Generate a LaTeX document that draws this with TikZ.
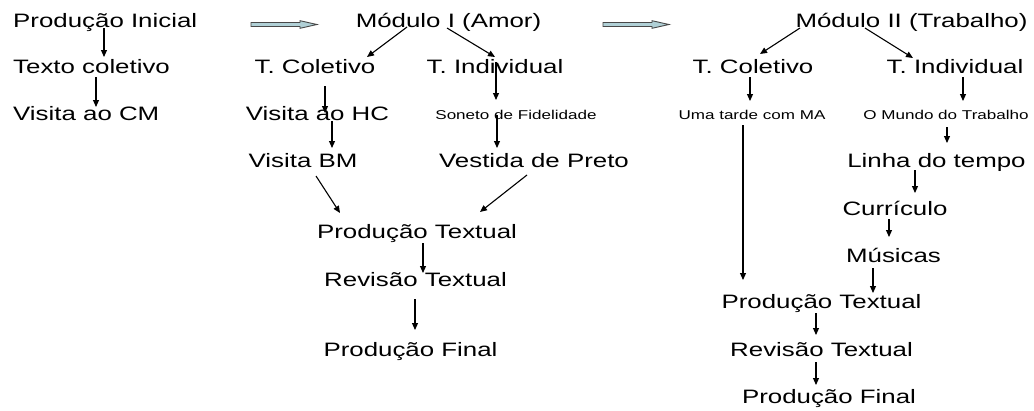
\documentclass[tikz,border=0pt]{standalone}
\usepackage{fontspec}
\setmainfont{Liberation Sans}[FakeStretch=1.333]
\usepackage{tikz}
\usetikzlibrary{arrows.meta}
\definecolor{blkfill}{RGB}{176,208,214}
\definecolor{blkline}{RGB}{72,72,72}
\newcommand{\bigsize}{\fontsize{19.4}{23}\selectfont}
\newcommand{\smallsize}{\fontsize{12.8}{15}\selectfont}

\begin{document}
\begin{tikzpicture}[x=1pt,y=-1pt,
    lbl/.style={anchor=base, inner sep=0pt, font=\bigsize},
    lblw/.style={lbl, anchor=base west},
    sml/.style={lbl, font=\smallsize},
    arr/.style={-{Triangle[length=7pt,width=6pt]}, line width=1.1pt},
    blk/.style={draw=blkline, fill=blkfill, line width=.9pt}]
    \useasboundingbox (0,0) rectangle (1034,410);

    % Produção inicial
        \node (pini) at (13,27) [lblw] {Produção Inicial};
        \node (texto) at (13,73) [lblw] {Texto coletivo};
        \node (viscm) at (13,120) [lblw] {Visita ao CM};

    % Módulo I
        \node (mod1) at (448.5,27) [lbl] {Módulo I (Amor)};
        \node (tcol1) at (315,73) [lbl] {T. Coletivo};
        \node (tind1) at (495,73) [lbl] {T. Individual};
        \node (vishc) at (317.5,120) [lbl] {Visita ao HC};
        \node (soneto) at (516,119) [sml] {Soneto de Fidelidade};
        \node (visbm) at (303,167) [lbl] {Visita BM};
        \node (vestida) at (534,167) [lbl] {Vestida de Preto};
        \node (ptext1) at (417,238) [lbl] {Produção Textual};
        \node (rev1) at (415.5,286) [lbl] {Revisão Textual};
        \node (pfin1) at (410.5,356) [lbl] {Produção Final};

    % Módulo II
        \node (mod2) at (911.5,27) [lbl] {Módulo II (Trabalho)};
        \node (tcol2) at (753,73) [lbl] {T. Coletivo};
        \node (tind2) at (955,73) [lbl] {T. Individual};
        \node (tarde) at (752,119) [sml] {Uma tarde com MA};
        \node (mundo) at (946,119) [sml] {O Mundo do Trabalho};
        \node (linha) at (936.5,167) [lbl] {Linha do tempo};
        \node (curr) at (895,215) [lbl] {Currículo};
        \node (mus) at (893.5,262) [lbl] {Músicas};
        \node (ptext2) at (821.5,308) [lbl] {Produção Textual};
        \node (rev2) at (821.5,356) [lbl] {Revisão Textual};
        \node (pfin2) at (829,403) [lbl] {Produção Final};

    % block arrows between the stages
        \foreach \x in {251,603}
        \draw[blk] (\x,22.5) -- ++(49,0) -- ++(0,-1.8) -- (\x+66,24.5)
        -- (\x+49,28.3) -- ++(0,-1.8) -- (\x,26.5) -- cycle;

        \draw[arr] ([shift={(91,1)}]pini.base west) to ([shift={(91,-16)}]texto.base west);
        \draw[arr] ([shift={(83,4)}]texto.base west) to ([shift={(83,-13)}]viscm.base west);

        \draw[arr] ([shift={(-41.5,0)}]mod1.base) to ([shift={(52,-16)}]tcol1.base);
        \draw[arr] ([shift={(-1.5,1)}]mod1.base) to ([shift={(0,-16)}]tind1.base);
        \draw[arr] ([shift={(10,13)}]tcol1.base) to ([shift={(7.5,-7)}]vishc.base);
        \draw[arr] ([shift={(1,-11)}]tind1.base) to ([shift={(-20,-19)}]soneto.base);
        \draw[arr] ([shift={(14.5,1)}]vishc.base) to ([shift={(29,-19)}]visbm.base);
        \draw[arr] ([shift={(-19,-4)}]soneto.base) to ([shift={(-37,-19)}]vestida.base);
        \draw[arr] ([shift={(13,9)}]visbm.base) to ([shift={(-77,-25)}]ptext1.base);
        \draw[arr] ([shift={(-7,8)}]vestida.base) to ([shift={(63,-26)}]ptext1.base);
        \draw[arr] ([shift={(6,5)}]ptext1.base) to ([shift={(7.5,-13)}]rev1.base);
        \draw[arr] ([shift={(-0.5,13)}]rev1.base) to ([shift={(4.5,-26)}]pfin1.base);

        \draw[arr] ([shift={(-111.5,1)}]mod2.base) to ([shift={(7,-19)}]tcol2.base);
        \draw[arr] ([shift={(-46.5,1)}]mod2.base) to ([shift={(-42,-15)}]tind2.base);
        \draw[arr] ([shift={(-3,4)}]tcol2.base) to ([shift={(-2,-18)}]tarde.base);
        \draw[arr] ([shift={(8,4)}]tind2.base) to ([shift={(17,-18)}]mundo.base);
        \draw[arr] ([shift={(-9,6)}]tarde.base) to ([shift={(-78.5,-28)}]ptext2.base);
        \draw[arr] ([shift={(1,8)}]mundo.base) to ([shift={(10.5,-24)}]linha.base);
        \draw[arr] ([shift={(-21.5,3)}]linha.base) to ([shift={(20,-22)}]curr.base);
        \draw[arr] ([shift={(-6,4)}]curr.base) to ([shift={(-4.5,-25)}]mus.base);
        \draw[arr] ([shift={(-20.5,6)}]mus.base) to ([shift={(51.5,-15)}]ptext2.base);
        \draw[arr] ([shift={(-5.5,5)}]ptext2.base) to ([shift={(-5.5,-21)}]rev2.base);
        \draw[arr] ([shift={(-5.5,6)}]rev2.base) to ([shift={(-13,-18)}]pfin2.base);

  \end{tikzpicture}
\end{document}
